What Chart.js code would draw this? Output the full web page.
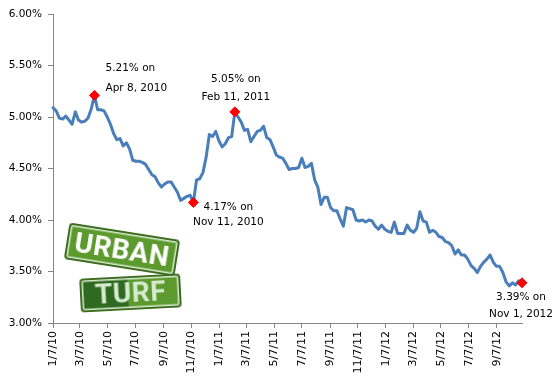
<!DOCTYPE html>
<html>
<head>
<meta charset="utf-8">
<script src="https://cdn.jsdelivr.net/npm/chart.js@4.4.1/dist/chart.umd.min.js"></script>
<style>
  html, body { margin: 0; padding: 0; background: #ffffff; }
  #wrap { position: relative; width: 557px; height: 384px; overflow: hidden; }
  #c { position: absolute; left: 0; top: 0; }
  .sign { position: absolute; box-sizing: border-box; border-radius: 4px;
          font-family: "Liberation Sans Narrow", "Roboto", "Liberation Sans", sans-serif;
          font-weight: bold; text-align: center; letter-spacing: 0.5px; }
  #urban { left: 66px; top: 231px; width: 112px; height: 37px; line-height: 33px; font-size: 28px;
           background: #5c9a2e; color: #ffffff; border: 2px solid #3c6c1d;
           box-shadow: inset 0 0 0 1.5px #d9ead0; transform: rotate(9deg); }
  #turf { left: 80px; top: 276px; width: 101px; height: 34px; line-height: 30px; font-size: 28px;
          background: linear-gradient(to right, #2f6a21 0%, #2f6a21 47%, #5c9a2e 47%, #5c9a2e 100%);
          color: #d6ead0; border: 2px solid #3c6c1d;
          box-shadow: inset 0 0 0 1.5px #d9ead0; transform: rotate(-3deg); }
</style>
</head>
<body>
<div id="wrap">
  <canvas id="c" width="557" height="384"></canvas>
  <div class="sign" id="urban">URBAN</div>
  <div class="sign" id="turf">TURF</div>
</div>
<script>
// ---- data (weekly 30-year fixed mortgage rates, %), first week = 1/7/10 ----
const startDate = '1/7/10';
const rates2010 = [5.09,5.06,4.99,4.98,5.01,4.97,4.93,5.05,4.97,4.95,4.96,4.99,5.08,5.21,
  5.07,5.07,5.06,5.00,4.93,4.84,4.78,4.79,4.72,4.75,4.69,4.58,4.57,4.57,4.56,4.54,4.49,4.44,
  4.42,4.36,4.32,4.35,4.37,4.37,4.32,4.27,4.19,4.21,4.23,4.24,4.17,4.39,4.40,4.46,4.61,4.83,
  4.81,4.86];
const rates2011 = [4.77,4.71,4.74,4.80,4.81,5.05,5.00,4.95,4.87,4.88,4.76,4.81,4.86,4.87,
  4.91,4.80,4.78,4.71,4.63,4.61,4.60,4.55,4.49,4.50,4.50,4.51,4.60,4.51,4.52,4.55,4.39,4.32,
  4.15,4.22,4.22,4.12,4.09,4.09,4.01,3.94,4.12,4.11,4.10,4.00,3.99,4.00,3.98,4.00,3.99,3.94,
  3.91,3.95];
const rates2012 = [3.91,3.89,3.88,3.98,3.87,3.87,3.87,3.95,3.90,3.88,3.92,4.08,3.99,3.98,
  3.88,3.90,3.88,3.84,3.83,3.79,3.78,3.75,3.67,3.71,3.66,3.66,3.62,3.56,3.53,3.49,3.55,3.59,
  3.62,3.66,3.59,3.55,3.55,3.49,3.40,3.36,3.39,3.37,3.41,3.39];
const tickLabels = ['1/7/10','3/7/10','5/7/10','7/7/10','9/7/10','11/7/10','1/7/11','3/7/11',
  '5/7/11','7/7/11','9/7/11','11/7/11','1/7/12','3/7/12','5/7/12','7/7/12','9/7/12'];
const yTicks = [3.0, 3.5, 4.0, 4.5, 5.0, 5.5, 6.0];
const highlightWeeks = [13, 44, 57, 147];
const highlightText = [
  ['5.21% on', 'Apr 8, 2010'],
  ['4.17% on', 'Nov 11, 2010'],
  ['5.05% on', 'Feb 11, 2011'],
  ['3.39% on', 'Nov 1, 2012']
];

// ---- helpers ----
function parseMDY(s) { const p = s.split('/').map(Number); return Date.UTC(2000 + p[2], p[0] - 1, p[1]); }
const t0 = parseMDY(startDate);
const dayOf = s => Math.round((parseMDY(s) - t0) / 86400000);
const rates = rates2010.concat(rates2011, rates2012);
const points = rates.map((v, i) => ({ x: i * 7, y: v }));
const tickDays = tickLabels.map(dayOf);
const lastDay = points[points.length - 1].x;

// annotation placement (pixel offsets from the marked point)
const labelPlacement = [
  { dx: 11, dy: [-27, -7], align: 'left' },
  { dx: 35, dy: [5, 20], align: 'center' },
  { dx: 1, dy: [-33, -15], align: 'center' },
  { dx: -1, dy: [14, 31], align: 'center' }
];

const annotPlugin = {
  id: 'annot',
  afterDatasetsDraw(chart) {
    const ctx = chart.ctx;
    const xs = chart.scales.x, ys = chart.scales.y;
    ctx.save();
    ctx.font = '10.5px "DejaVu Sans", sans-serif';
    ctx.fillStyle = '#000000';
    ctx.textBaseline = 'middle';
    highlightWeeks.forEach((w, k) => {
      const px = xs.getPixelForValue(points[w].x);
      const py = ys.getPixelForValue(points[w].y);
      const pl = labelPlacement[k];
      ctx.textAlign = pl.align;
      highlightText[k].forEach((line, j) => ctx.fillText(line, px + pl.dx, py + pl.dy[j]));
    });
    ctx.restore();
  }
};

new Chart(document.getElementById('c'), {
  type: 'line',
  data: {
    datasets: [{
      data: points,
      borderColor: '#4a7ebb',
      borderWidth: 3,
      tension: 0,
      borderJoinStyle: 'round',
      borderCapStyle: 'round',
      clip: false,
      pointStyle: 'rectRot',
      pointRadius: ctx => highlightWeeks.includes(ctx.dataIndex) ? 5 : 0,
      pointHoverRadius: ctx => highlightWeeks.includes(ctx.dataIndex) ? 5 : 0,
      pointBackgroundColor: '#ff0000',
      pointBorderColor: '#ff0000',
      pointBorderWidth: 1
    }]
  },
  options: {
    responsive: false,
    animation: false,
    events: [],
    layout: { padding: { left: 0, right: 35, top: 14, bottom: 0 } },
    plugins: { legend: { display: false }, title: { display: false }, tooltip: { enabled: false } },
    scales: {
      x: {
        type: 'linear',
        min: 0,
        max: lastDay,
        afterBuildTicks: s => { s.ticks = tickDays.map(v => ({ value: v })); },
        afterFit: s => { s.height = 61; },
        grid: { drawOnChartArea: false, drawTicks: true, tickLength: 5, color: '#868686' },
        border: { display: true, color: '#868686', width: 1 },
        ticks: {
          autoSkip: false,
          minRotation: 90,
          maxRotation: 90,
          padding: 3,
          color: '#000000',
          font: { family: '"DejaVu Sans", sans-serif', size: 11 },
          callback: (v, i) => tickLabels[i]
        }
      },
      y: {
        min: 3,
        max: 6,
        afterBuildTicks: s => { s.ticks = yTicks.map(v => ({ value: v })); },
        afterFit: s => { s.width = 53; },
        grid: { drawOnChartArea: false, drawTicks: true, tickLength: 5, color: '#868686' },
        border: { display: true, color: '#868686', width: 1 },
        ticks: {
          padding: 6,
          color: '#000000',
          font: { family: '"DejaVu Sans", sans-serif', size: 10.5 },
          callback: v => v.toFixed(2) + '%'
        }
      }
    }
  },
  plugins: [annotPlugin]
});
</script>
</body>
</html>
